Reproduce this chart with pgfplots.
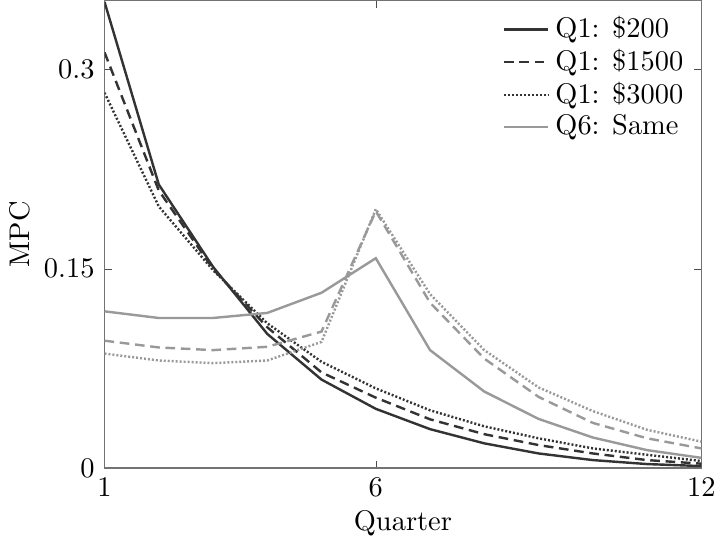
\documentclass[border=0pt]{standalone}
\usepackage{pgfplots}
\pgfplotsset{compat=1.18}
\definecolor{darkln}{RGB}{51,51,51}
\definecolor{lightln}{RGB}{153,153,153}
\begin{document}
\begin{tikzpicture}
\begin{axis}[
  scale only axis,
  width=210pt, height=164.5pt,
  xmin=1, xmax=12, ymin=0, ymax=0.352,
  xtick={1,6,12}, ytick={0,0.15,0.3},
  yticklabel style={/pgf/number format/fixed, /pgf/number format/precision=2},
  scaled y ticks=false,
  tick align=inside,
  major tick length=2.5pt,
  axis line style={black!55},
  tick style={black!70},
  xlabel={Quarter}, ylabel={MPC},
  xlabel style={yshift=2pt},
  ylabel style={yshift=-2pt},
  legend style={draw=none, fill=none, at={(0.985,0.985)}, anchor=north east,
    row sep=-1.5pt, inner sep=1pt},
  legend cell align=left,
  legend image code/.code={\draw[#1] (0cm,0cm) -- (0.55cm,0cm);},
  clip=true,
]
% Q1 shocks (dark)
\addplot[darkln, line width=0.85pt] coordinates {
(1,0.351) (2,0.2135) (3,0.1515) (4,0.101) (5,0.0666) (6,0.0446)
(7,0.0293) (8,0.0186) (9,0.011) (10,0.006) (11,0.003) (12,0.0015)};
\addlegendentry{Q1: \$200}
\addplot[darkln, line width=0.85pt, dash pattern=on 3.4pt off 2pt] coordinates {
(1,0.313) (2,0.209) (3,0.150) (4,0.106) (5,0.072) (6,0.053)
(7,0.0367) (8,0.0255) (9,0.0173) (10,0.011) (11,0.006) (12,0.0033)};
\addlegendentry{Q1: \$1500}
\addplot[darkln, line width=0.85pt, dash pattern=on 0.7pt off 0.7pt] coordinates {
(1,0.2826) (2,0.197) (3,0.149) (4,0.109) (5,0.080) (6,0.060)
(7,0.0435) (8,0.0314) (9,0.0224) (10,0.0148) (11,0.010) (12,0.0053)};
\addlegendentry{Q1: \$3000}
% Q6 shocks (light)
\addplot[lightln, line width=0.85pt] coordinates {
(1,0.118) (2,0.113) (3,0.113) (4,0.1168) (5,0.132) (6,0.158)
(7,0.0888) (8,0.0576) (9,0.037) (10,0.023) (11,0.0135) (12,0.0077)};
\addlegendentry{Q6: Same}
\addplot[lightln, line width=0.85pt, dash pattern=on 3.4pt off 2pt, forget plot] coordinates {
(1,0.0959) (2,0.0908) (3,0.0888) (4,0.0913) (5,0.1028) (6,0.1934)
(7,0.1245) (8,0.0824) (9,0.0536) (10,0.034) (11,0.0224) (12,0.0148)};
\addplot[lightln, line width=0.85pt, dash pattern=on 0.7pt off 0.7pt, forget plot] coordinates {
(1,0.0862) (2,0.081) (3,0.079) (4,0.081) (5,0.095) (6,0.195)
(7,0.131) (8,0.0888) (9,0.0607) (10,0.0429) (11,0.0288) (12,0.0199)};
\end{axis}
\end{tikzpicture}
\end{document}
